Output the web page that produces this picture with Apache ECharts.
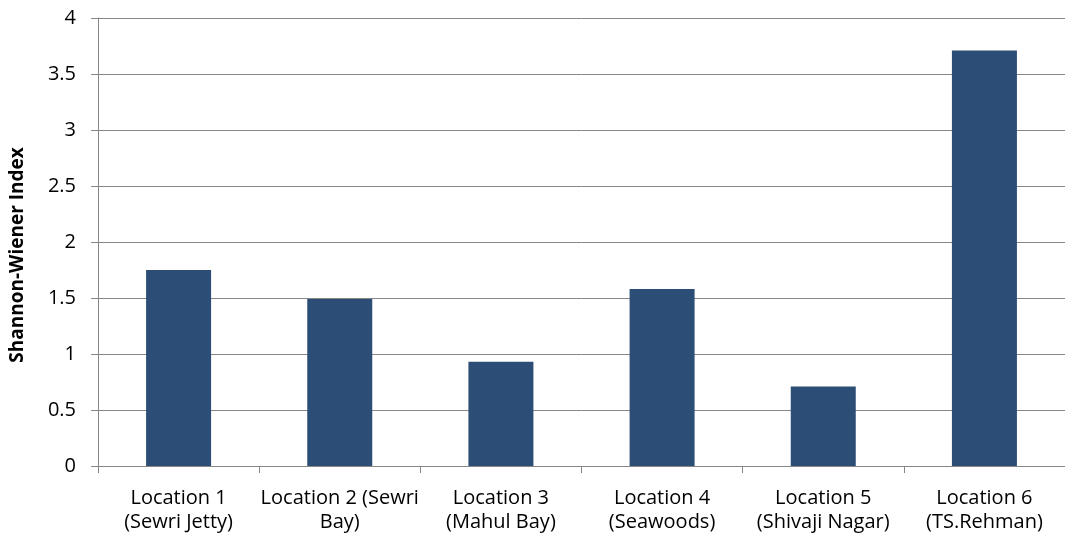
<!DOCTYPE html>
<html>
<head>
<meta charset="utf-8">
<script src="https://cdn.jsdelivr.net/npm/echarts@6/dist/echarts.min.js"></script>
<style>
  html, body { margin: 0; padding: 0; background: #fff; }
  #chart { width: 1065px; height: 542px; }
</style>
</head>
<body>
<div id="chart"></div>
<script>
// Shannon-Wiener diversity index by sampling location
const categories = [
  'Location 1\n(Sewri Jetty)',
  'Location 2 (Sewri\nBay)',
  'Location 3\n(Mahul Bay)',
  'Location 4\n(Seawoods)',
  'Location 5\n(Shivaji Nagar)',
  'Location 6\n(TS.Rehman)'
];
const shannonIndex = [1.75, 1.49, 0.93, 1.58, 0.71, 3.71];
const yTicks = { min: 0, max: 4, interval: 0.5 };

const font = '"Open Sans", sans-serif';
const axisGrey = '#868686';

const chart = echarts.init(document.getElementById('chart'));
chart.setOption({
  animation: false,
  grid: { left: 98, top: 18, width: 972, bottom: 76, containLabel: false },
  xAxis: {
    type: 'category',
    data: categories,
    boundaryGap: true,
    axisLine: { show: true, lineStyle: { color: axisGrey, width: 1 } },
    axisTick: { show: true, length: 7, alignWithLabel: false, lineStyle: { color: axisGrey } },
    axisLabel: {
      interval: 0,
      margin: 20,
      color: '#000',
      fontFamily: font,
      fontSize: 20,
      lineHeight: 24
    }
  },
  yAxis: {
    type: 'value',
    min: yTicks.min,
    max: yTicks.max,
    interval: yTicks.interval,
    name: 'Shannon-Wiener Index',
    nameLocation: 'middle',
    nameGap: 71,
    nameRotate: 90,
    nameTextStyle: {
      color: '#000',
      fontFamily: font,
      fontSize: 19,
      fontWeight: 'bold',
      padding: [0, 26, 0, 0]
    },
    axisLine: { show: true, lineStyle: { color: axisGrey, width: 1 } },
    axisTick: { show: true, length: 7, lineStyle: { color: axisGrey } },
    splitLine: { show: true, lineStyle: { color: axisGrey, width: 1 } },
    axisLabel: {
      margin: 22,
      color: '#000',
      fontFamily: font,
      fontSize: 20,
      formatter: v => String(v)
    }
  },
  series: [{
    type: 'bar',
    data: shannonIndex,
    barWidth: 65,
    itemStyle: { color: '#2C4D76' }
  }]
});
</script>
</body>
</html>
